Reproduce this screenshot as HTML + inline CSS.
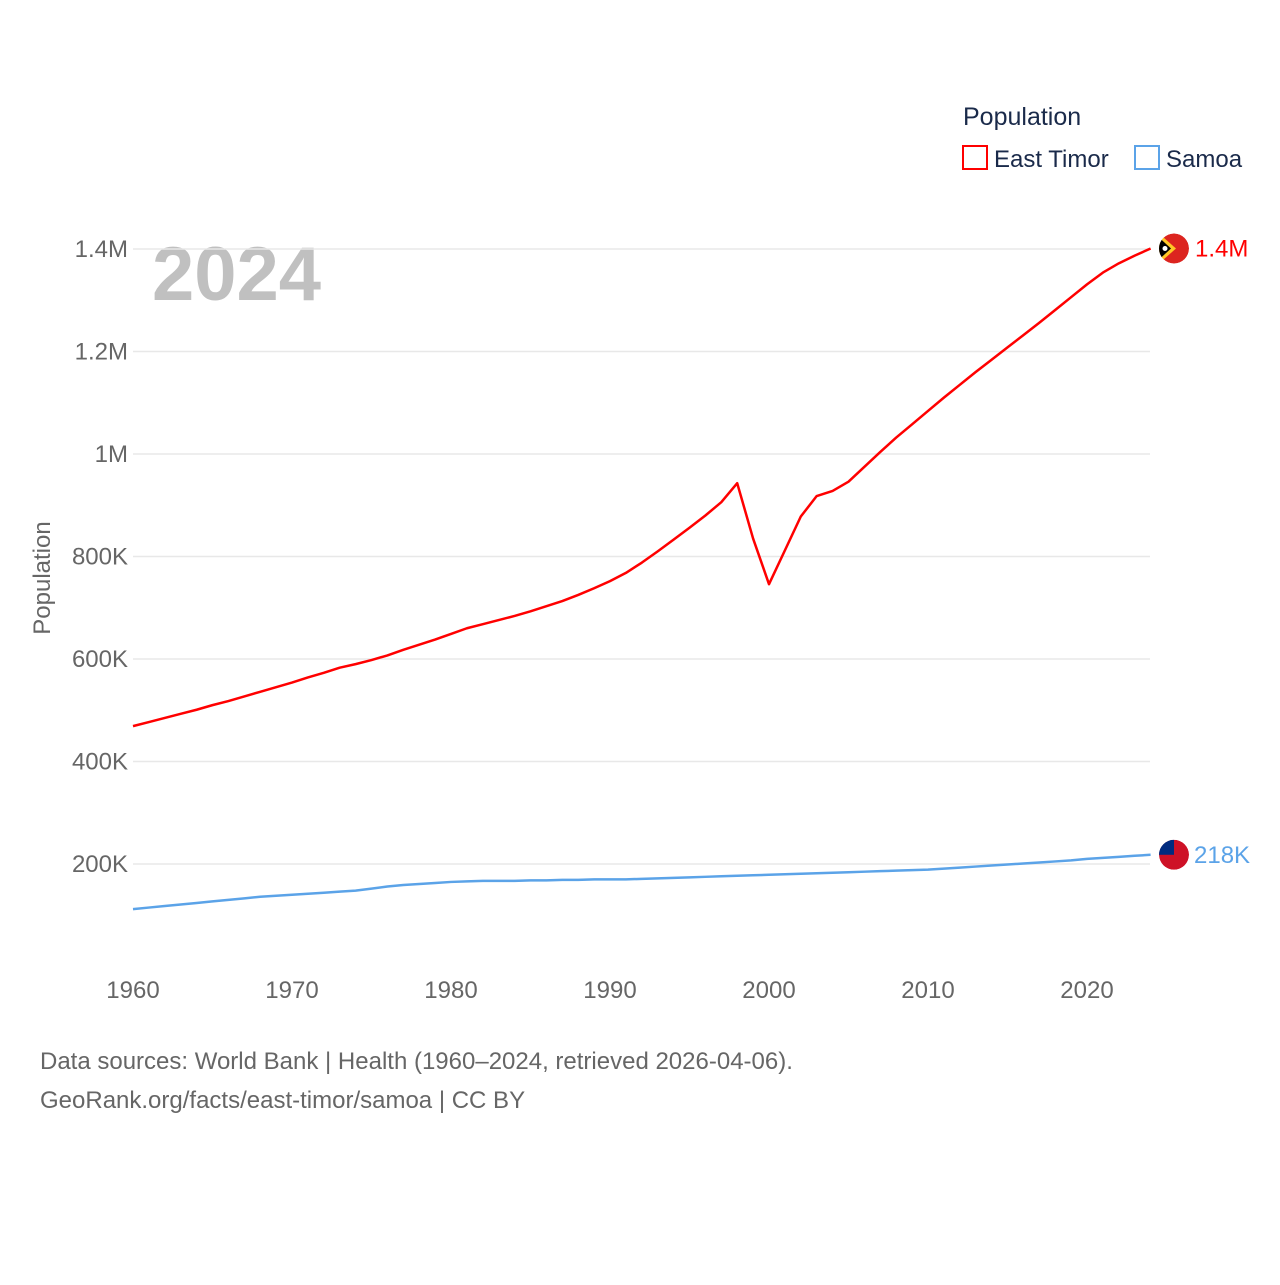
<!DOCTYPE html>
<html><head><meta charset="utf-8"><style>
body{margin:0;background:#fff;font-family:"Liberation Sans",sans-serif}
svg text{font-family:"Liberation Sans",sans-serif}
</style></head><body>
<svg id="c" width="1280" height="1280" viewBox="0 0 1280 1280">
<defs><clipPath id="fc1"><circle cx="1174" cy="248.5" r="15"/></clipPath><clipPath id="fc2"><circle cx="1174" cy="854.8" r="15"/></clipPath></defs>
<text x="963" y="125" font-size="25" fill="#1a2a4a">Population</text>
<g><rect x="963" y="146" width="24" height="23" fill="none" stroke="#f00" stroke-width="2"/><text x="994" y="167" font-size="24" fill="#1a2a4a">East Timor</text></g>
<g><rect x="1135" y="146" width="24" height="23" fill="none" stroke="#5ba3e8" stroke-width="2"/><text x="1166" y="167" font-size="24" fill="#1a2a4a">Samoa</text></g>
<text x="152" y="300" font-size="76" font-weight="bold" fill="#c0c0c0">2024</text>
<text transform="translate(50,578) rotate(-90)" text-anchor="middle" font-size="24" fill="#666">Population</text>
<g id="grid"></g><g id="series"></g>
<text x="40" y="1069" font-size="24" fill="#666">Data sources: World Bank | Health (1960–2024, retrieved 2026-04-06).</text>
<text x="40" y="1108" font-size="24" fill="#666">GeoRank.org/facts/east-timor/samoa | CC BY</text>
</svg>
<script>
const years=[];for(let y=1960;y<=2024;y++)years.push(y);
const eastTimor=[469,477,485,493,501,510,518,527,536,545,554,564,573,583,590,598,607,618,628,638,649,660,668,676,684,693,703,713,725,738,752,768,788,810,833,856,880,906,943,835,746,812,878,918,928,946,975,1004,1032,1058,1084,1110,1135,1160,1184,1208,1232,1256,1281,1306,1331,1354,1372,1387,1401];
const samoa=[112,115,118,121,124,127,130,133,136,138,140,142,144,146,148,152,156,159,161,163,165,166,167,167,167,168,168,169,169,170,170,170,171,172,173,174,175,176,177,178,179,180,181,182,183,184,185,186,187,188,189,191,193,195,197,199,201,203,205,207,210,212,214,216,218];
const yTicks=[200,400,600,800,1000,1200,1400];
const yTickLabels=["200K","400K","600K","800K","1M","1.2M","1.4M"];
const xTicks=[1960,1970,1980,1990,2000,2010,2020];
const NS="http://www.w3.org/2000/svg";
const X=v=>133+(v-1960)*15.9;
const Y=v=>966.5-v*0.5125;
const grid=document.getElementById('grid'),ser=document.getElementById('series');
function mk(t,a,p){const e=document.createElementNS(NS,t);for(const k in a)e.setAttribute(k,a[k]);p.appendChild(e);return e;}
yTicks.forEach((t,i)=>{
 const l=mk('line',{x1:133,x2:1150,y1:Y(t),y2:Y(t),stroke:'#e8e8e8','stroke-width':1.5},grid);
 
 
 const tx=mk('text',{x:128,y:Y(t)+8,'text-anchor':'end','font-size':24,fill:'#666'},grid);tx.textContent=yTickLabels[i];
 
 
});
xTicks.forEach(t=>{
 const tx=mk('text',{x:X(t),y:998,'text-anchor':'middle','font-size':24,fill:'#666'},grid);tx.textContent=t;
 
 
});
function line(d,c,name){
 const p=mk('polyline',{points:d.map((v,i)=>X(years[i])+','+Y(v)).join(' '),fill:'none',stroke:c,'stroke-width':2.5,'stroke-linejoin':'round'},ser);
 
 
}
line(eastTimor,'#f00','east-timor-line');
line(samoa,'#5ba3e8','samoa-line');
const fx=1174;
let y1=Y(eastTimor[64]);
const g1=mk('g',{'clip-path':'url(#fc1)'},ser);


mk('circle',{cx:fx,cy:y1,r:15,fill:'#dc241f'},g1);
mk('path',{d:`M${fx-15} ${y1-15} L${fx+2} ${y1} L${fx-15} ${y1+15}Z`,fill:'#ffc726'},g1);
mk('path',{d:`M${fx-15} ${y1-11} L${fx-3} ${y1} L${fx-15} ${y1+11}Z`,fill:'#000'},g1);
mk('circle',{cx:fx-9,cy:y1,r:2.5,fill:'#fff'},g1);
const lb1=mk('text',{x:1195,y:y1+8,'font-size':24,fill:'#f00'},ser);lb1.textContent='1.4M';


let y2=Y(samoa[64]);
const g2=mk('g',{'clip-path':'url(#fc2)'},ser);


mk('circle',{cx:fx,cy:y2,r:15,fill:'#ce1126'},g2);
mk('rect',{x:fx-15,y:y2-15,width:15,height:15,fill:'#002b7f'},g2);
const lb2=mk('text',{x:1194,y:y2+8,'font-size':24,fill:'#5ba3e8'},ser);lb2.textContent='218K';


</script>
</body></html>
